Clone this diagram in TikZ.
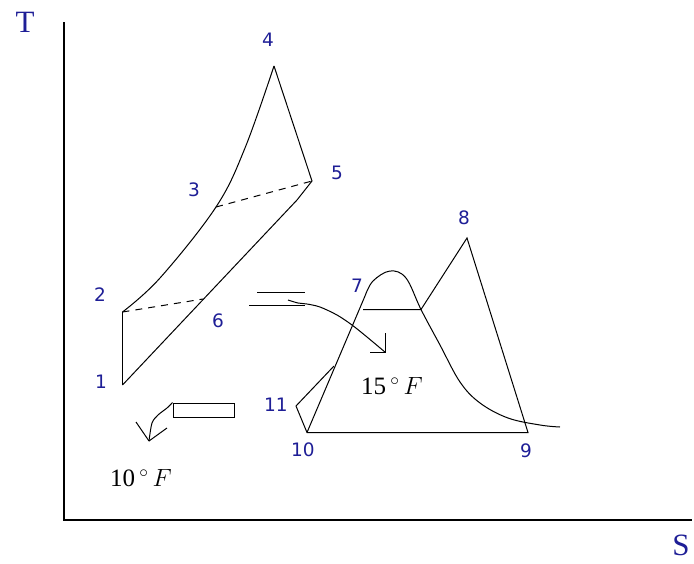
\documentclass[tikz,border=0pt]{standalone}
\usepackage{fontspec}
\setmainfont{Liberation Serif}
\newfontfamily\numfont{DejaVu Sans}
\definecolor{lblue}{RGB}{30,30,150}
\begin{document}
\begin{tikzpicture}[x=1pt,y=-1pt,line width=1pt,
  lbl/.style={text=lblue,font=\numfont\fontsize{18.5}{18.5}\selectfont,inner sep=0pt},
  axlbl/.style={text=lblue,font=\fontsize{31}{31}\selectfont,inner sep=0pt},
  temp/.style={font=\fontsize{25}{25}\selectfont,inner sep=0pt},
  axisline/.style={line width=1.6pt},
  dashline/.style={dashed,dash pattern=on 7pt off 6pt}]
\useasboundingbox (0,0) rectangle (694,563);
% axes
\coordinate (ytop) at (64,22);
\coordinate (orig) at (64,520);
\coordinate (xend) at (692,520);
\draw[axisline] (ytop) -- (orig) -- (xend);
\node[axlbl] (T) at (25,22) {T};
\node[axlbl,anchor=south east] (S) at (690,556) {S};
% left cycle points
\coordinate (p1) at (122.5,385);
\coordinate (p2) at (122.5,312);
\coordinate (p3) at (216,207);
\coordinate (p4) at (274,66);
\coordinate (p5) at (312,181);
\coordinate (p6) at (203,299);
\coordinate (k5) at (297,200);
\draw (p1) -- (p2);
\draw plot[smooth,tension=0.6] coordinates {(p2) (160,278) (p3) (245,148) (p4)};
\draw (p4) -- (p5) -- (k5) -- (p1);
\draw[dashline] (p2) -- (p6);
\draw[dashline] (p3) -- (p5);
\node[lbl] (l1) at (101,382) {1};
\node[lbl] (l2) at (100,295) {2};
\node[lbl] (l3) at (194,190) {3};
\node[lbl] (l4) at (268,40) {4};
\node[lbl] (l5) at (337,173) {5};
\node[lbl] (l6) at (218,321) {6};
% right cycle
\coordinate (p10) at (307,432.5);
\coordinate (p9) at (528,432.5);
\coordinate (p8) at (467,238);
\coordinate (p11) at (296,406);
\coordinate (j11) at (334,366);
\coordinate (d0) at (365,296);
\coordinate (h0) at (363,309.5);
\coordinate (h1) at (421,309.5);
\draw (p10) -- (d0);
\draw plot[smooth,tension=0.6] coordinates {(d0) (373,281) (390,271) (406,278) (h1) (440,345) (460,382) (480,403) (508,418) (540,425) (560,427)};
\draw (h0) -- (h1) -- (p8) -- (p9) -- (p10) -- (p11) -- (j11);
\node[lbl] (l7) at (357,286) {7};
\node[lbl] (l8) at (464,218) {8};
\node[lbl] (l9) at (526,451) {9};
\node[lbl] (l10) at (303,450) {10};
\node[lbl] (l11) at (276,405) {11};
% heat exchanger symbol (upper)
\coordinate (hxa) at (257,292.5);
\coordinate (hxb) at (305,292.5);
\coordinate (hxc) at (249,305.5);
\coordinate (hxd) at (305,305.5);
\draw (hxa) -- (hxb);
\draw (hxc) -- (hxd);
\coordinate (hxs) at (288,300);
\coordinate (hxt) at (385.5,352.5);
\draw plot[smooth,tension=0.5] coordinates {(hxs) (298,303) (307,304) (320,307) (337,315) (352,325) (367,337) (hxt)};
\draw (hxt) -- ++(0,-20);
\draw (hxt) -- ++(-16,0);
\node[temp] (t15) at (392,386) {15\,$^\circ$\,$F$};
% lower exchanger box
\node[draw,line width=1pt,minimum width=61pt,minimum height=14pt,inner sep=0pt,anchor=north west] (box) at (172.5,402.5) {};
\coordinate (at) at (149,441);
\draw plot[smooth,tension=0.5] coordinates {(box.north west) (167,408) (158,415) (152,423) (at)};
\draw (at) -- ++(-13,-19);
\draw (at) -- ++(18,-13);
\node[temp] (t10) at (141,478) {10\,$^\circ$\,$F$};
\end{tikzpicture}
\end{document}
